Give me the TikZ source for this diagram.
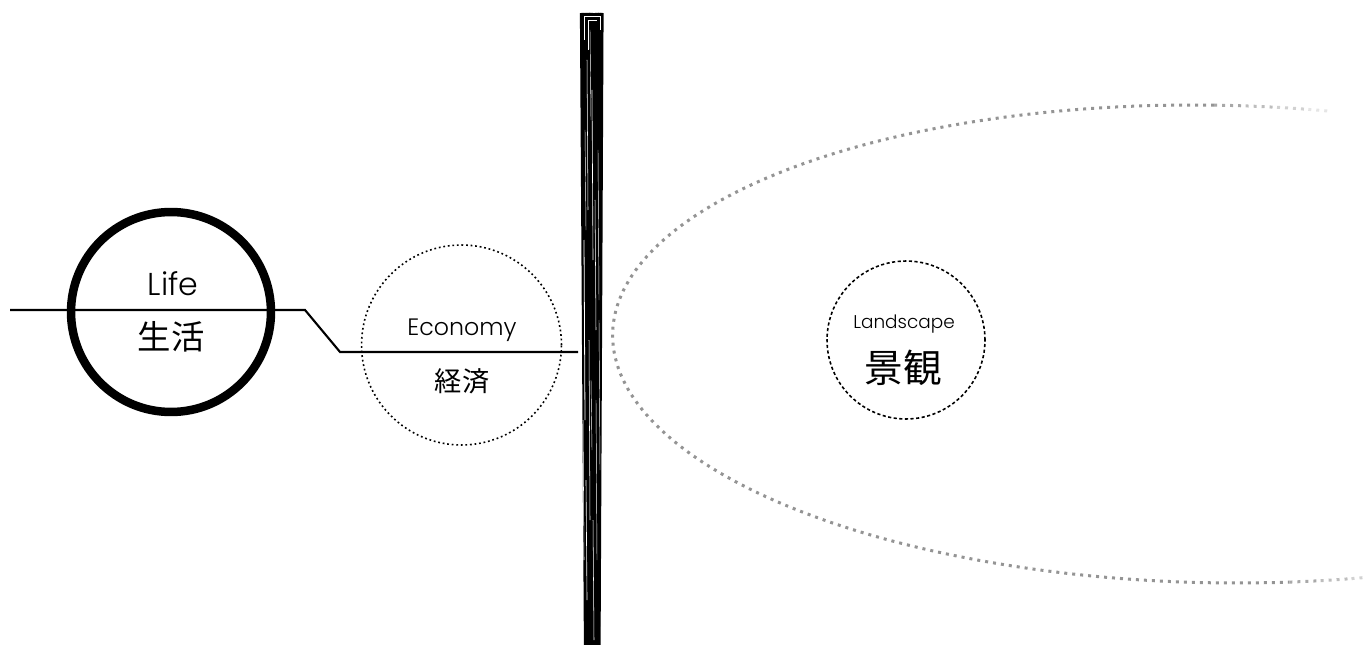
\documentclass[tikz,border=0pt]{standalone}
\usepackage{fontspec}
\newfontfamily\latinfont{Poppins Light}
\newfontfamily\jpfont{Noto Sans CJK JP}
\tikzset{
  ring/.style={circle, draw, inner sep=0pt},
  dotring/.style={circle, draw, inner sep=0pt, line width=0.9pt, dash pattern=on 1pt off 1.6pt},
  en/.style={font=\latinfont\fontsize{#1}{#1}\selectfont, inner sep=0pt, anchor=base},
  jp/.style={font=\jpfont\fontsize{#1}{#1}\selectfont, inner sep=0pt},
  gdots/.style={line width=0.06cm, dash pattern=on 0.06cm off 0.1cm}
}
\begin{document}
\begin{tikzpicture}[x=0.02cm, y=-0.02cm]
\useasboundingbox (0,0) rectangle (1365,645);
% circles
\node[ring, line width=0.17cm, minimum size=4cm] (life) at (171,312) {};
\node[dotring, minimum size=4cm] (economy) at (461.5,345) {};
\node[dotring, dash pattern=on 1.8pt off 1.4pt, minimum size=3.16cm] (landscape) at (906,340) {};
% labels
\node[en=18] (lifeEn) at (173,295) {Life};
\node[jp=19] (lifeJp) at (171,337) {生活};
\node[en=13.5] (economyEn) at (462,335) {Economy};
\node[jp=15.5] (economyJp) at (462,381) {経済};
\node[en=10.5] (landscapeEn) at (904,328) {Landscape};
\node[jp=22] (landscapeJp) at (903,368) {景観};
% line through life and economy
\coordinate (lineStart) at (10,310);
\coordinate (bendTop) at (305,310);
\coordinate (bendLow) at (340,352);
\coordinate (lineEnd) at (578,352);
\draw[line width=1.2pt] (lineStart) -- (bendTop) -- (bendLow) -- (lineEnd);
% brush bar, made of overlapping strokes
\foreach \xa/\xb/\w in {582/586/2.4, 585/588/2.4, 588/590/2.6, 591/592/2.4, 594/594/2.4,
  597/596/2.4, 600/598/2.2, 602/599/1.8}
  \draw[line width=\w pt] (\xa,13) -- (\xb,645);
\foreach \x/\ya/\yb/\w in {587/60/210/0.3, 592/90/260/0.35, 584/240/420/0.45, 589/340/520/0.3,
  596/400/560/0.25, 586/480/600/0.35, 598/150/300/0.25, 590/30/120/0.25, 595/200/330/0.3,
  583/420/560/0.3, 593/520/640/0.3, 599/320/470/0.25, 585/130/230/0.25, 591/380/450/0.25}
  \draw[white, line width=\w pt] (\x,\ya) -- (\x+1,\yb);
\draw[white, line width=0.4pt] (584,40) -- (584,16) -- (600,16) -- (600,30);
\draw[white, line width=0.3pt] (588,50) -- (588,20) -- (597,20);
% grey dotted arc, fading out on the right
\draw[gdots, black!42] plot[domain=88:275, samples=150] ({1215+602*cos(\x)-22*sin(\x)}, {344-239*sin(\x)});
\foreach \ta/\tb/\c in {88/85/34, 85/82/26, 82/79/18, 79/77/10}
  \draw[gdots, black!\c] plot[domain=\ta:\tb, samples=8] ({1215+602*cos(\x)-22*sin(\x)}, {344-239*sin(\x)});
\foreach \ta/\tb/\c in {275/278/34, 278/281/26, 281/284/18, 284/286/10}
  \draw[gdots, black!\c] plot[domain=\ta:\tb, samples=8] ({1215+602*cos(\x)-22*sin(\x)}, {344-239*sin(\x)});
\end{tikzpicture}
\end{document}
